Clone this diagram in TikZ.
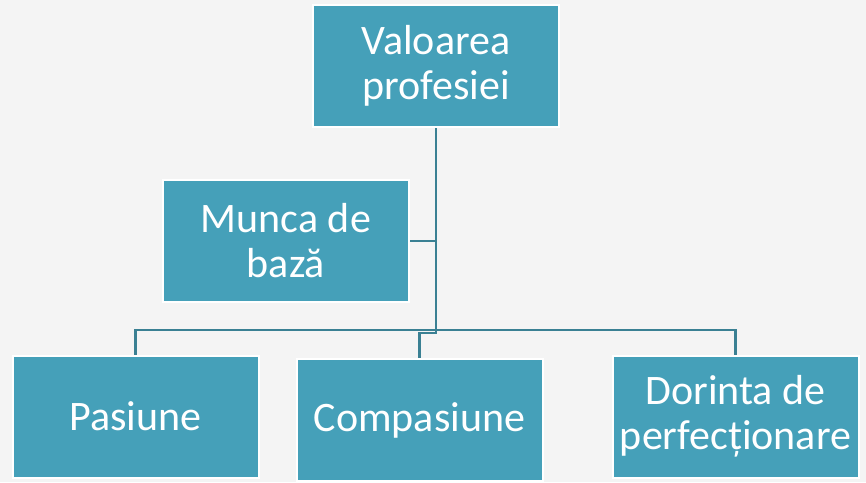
\documentclass[tikz,border=0pt]{standalone}
\usepackage{fontspec}
\setmainfont{Carlito}
\definecolor{bg}{HTML}{F4F4F4}
\definecolor{boxfill}{HTML}{45A0B9}
\definecolor{linecol}{HTML}{3A8093}
\tikzset{
  box/.style={draw=white, line width=2pt, fill=boxfill, text=white,
    minimum width=246pt, minimum height=122pt, inner sep=0pt, align=center,
    font=\fontsize{42}{45}\selectfont},
  conn/.style={draw=linecol, line width=2.5pt}
}
\begin{document}
\begin{tikzpicture}[x=1pt,y=-1pt]
\fill[bg] (0,0) rectangle (866,482);
\useasboundingbox (0,0) rectangle (866,482);
\node[box] (top) at (436,66) {Valoarea\\profesiei};
\node[box] (munca) at (286,241) {Munca de\\bază};
\node[box] (pas) at (135.5,416.5) {Pasiune};
\node[box] (comp) at (419.5,420) {Compasiune};
\node[box] (dor) at (735.5,416.5) {Dorinta de\\perfecționare};
\coordinate (bus) at (735.5,330);
\coordinate (jog) at (436,333);
\draw[conn] (top.south) -- (jog) -| (comp.north);
\draw[conn] (munca.east) -- (munca.east -| top.south);
\draw[conn] (pas.north) |- (bus) -- (dor.north);
\end{tikzpicture}
\end{document}
